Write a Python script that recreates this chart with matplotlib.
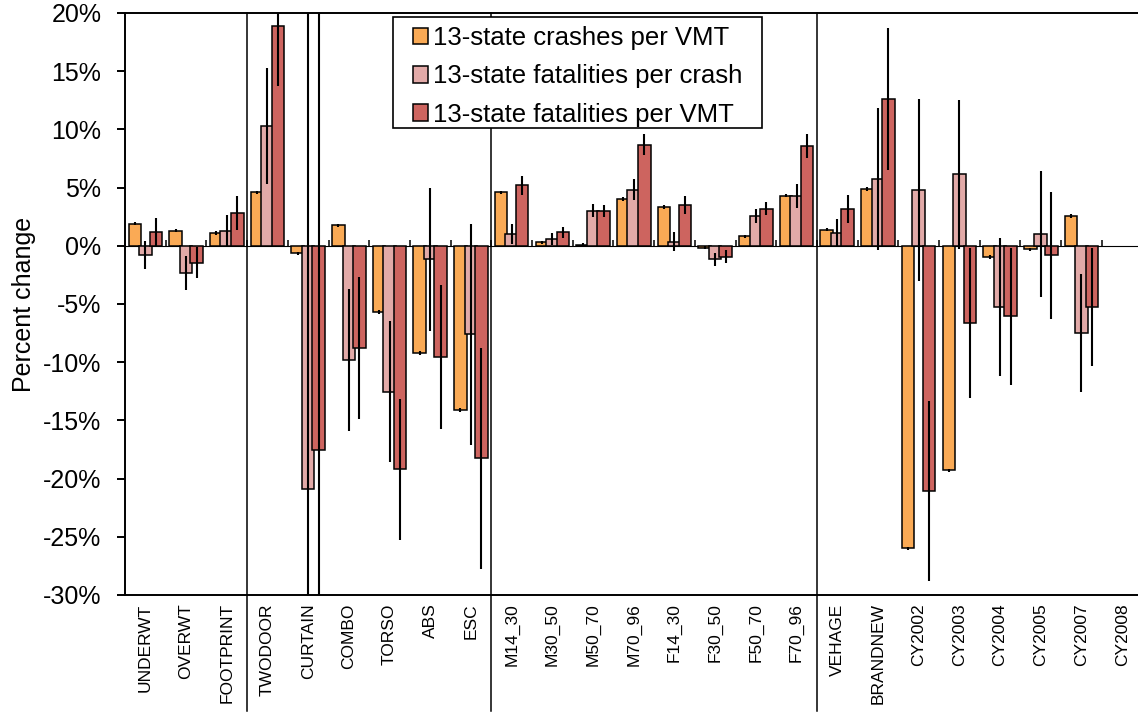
"""Percent change in 13-state crash / fatality rates by vehicle and driver factor."""

import numpy as np
import matplotlib
matplotlib.use("Agg")
import matplotlib.pyplot as plt
from matplotlib.patches import Rectangle

plt.rcParams["font.family"] = ["Liberation Sans", "DejaVu Sans"]

categories = ["UNDERWT", "OVERWT", "FOOTPRINT", "TWODOOR", "CURTAIN", "COMBO",
              "TORSO", "ABS", "ESC", "M14_30", "M30_50", "M50_70", "M70_96",
              "F14_30", "F30_50", "F50_70", "F70_96", "VEHAGE", "BRANDNEW",
              "CY2002", "CY2003", "CY2004", "CY2005", "CY2007", "CY2008"]

crashes_vmt = [1.9, 1.3, 1.1, 4.6, -0.65, 1.75, -5.7, -9.2, -14.1, 4.6, 0.3, 0.1,
               4.0, 3.35, -0.15, 0.8, 4.3, 1.4, 4.9, -26.0, -19.3, -0.95, -0.3,
               2.55, np.nan]
crashes_vmt_err = [0.15] * 24 + [np.nan]

fatal_crash = [-0.8, -2.35, 1.3, 10.3, -20.9, -9.8, -12.55, -1.15, -7.6, 1.0, 0.6,
               3.0, 4.8, 0.35, -1.15, 2.55, 4.3, 1.1, 5.7, 4.8, 6.15, -5.25, 1.0,
               -7.5, np.nan]
fatal_crash_err = [1.2, 1.45, 1.35, 4.95, 45.0, 6.1, 6.05, 6.15, 9.5, 0.85, 0.5,
                   0.55, 0.9, 0.8, 0.55, 0.6, 1.05, 1.2, 6.1, 7.8, 6.4, 5.9, 5.4,
                   5.1, np.nan]

fatal_vmt = [1.15, -1.45, 2.85, 18.85, -17.5, -8.75, -19.2, -9.55, -18.25, 5.2,
             1.15, 3.0, 8.7, 3.5, -0.95, 3.2, 8.55, 3.2, 12.65, -21.05, -6.65,
             -6.05, -0.8, -5.25, np.nan]
fatal_vmt_err = [1.2, 1.35, 1.45, 5.1, 45.0, 6.1, 6.05, 6.2, 9.5, 0.8, 0.5, 0.5,
                 0.9, 0.75, 0.55, 0.55, 1.05, 1.2, 6.1, 7.75, 6.45, 5.9, 5.45, 5.1,
                 np.nan]

series = [
    ("13-state crashes per VMT", crashes_vmt, crashes_vmt_err, "#FAAA55"),
    ("13-state fatalities per crash", fatal_crash, fatal_crash_err, "#E2AAA8"),
    ("13-state fatalities per VMT", fatal_vmt, fatal_vmt_err, "#CD645F"),
]
group_breaks = [2.5, 8.5, 16.5]
y_ticks = list(range(-30, 25, 5))

W, H = 1138, 713
fig = plt.figure(figsize=(W / 100, H / 100), dpi=100)
ax = fig.add_axes([125 / W, 118 / H, 1017.5 / W, 582 / H])

x = np.arange(len(categories))
offset, width = 0.258, 0.31
for i, (label, vals, errs, color) in enumerate(series):
    xs = x + (i - 1) * offset
    ax.bar(xs, vals, width=width, color=color, edgecolor="black",
           linewidth=1.1, label=label, zorder=2 + i * 0.1)
for i, (label, vals, errs, color) in enumerate(series):
    xs = x + (i - 1) * offset
    ax.errorbar(xs, vals, yerr=errs, fmt="none", ecolor="black",
                elinewidth=1.5, capsize=0, zorder=3)

# group separators, running down through the tick labels
for b in group_breaks:
    ax.plot([b, b], [1, -0.2], transform=ax.get_xaxis_transform(),
            color="black", lw=1.1, clip_on=False, zorder=1.5)

ax.set_xlim(-0.5, len(categories) - 0.5)
ax.set_ylim(-30, 20)
ax.set_yticks(y_ticks)
ax.set_yticklabels([f"{t}%" for t in y_ticks], fontsize=18)
ax.tick_params(axis="y", direction="out", length=6, width=1.4, pad=11)
ax.set_xticks(x)
ax.set_xticklabels(categories, rotation=90, fontsize=12.5,
                   rotation_mode="anchor", ha="right", va="center")
ax.tick_params(axis="x", length=0, pad=6)
ax.set_ylabel("Percent change", fontsize=18, labelpad=5)
for s in ["left", "bottom", "top"]:
    ax.spines[s].set_linewidth(1.4)
ax.spines["right"].set_visible(False)

# zero line with category-boundary ticks
zero_ax = ax.secondary_xaxis(30 / 50)
zero_ax.set_xticks(np.arange(-0.5, len(categories), 1.0))
zero_ax.set_xticklabels([])
zero_ax.tick_params(direction="out", length=4, width=1.1)
zero_ax.spines["bottom"].set_linewidth(1.4)

# legend box drawn separately so the side padding can be wider than the top
box = (393 / W, 1 - 128 / H, 369 / W, 111 / H)
ax.add_artist(Rectangle(box[:2], box[2], box[3], transform=fig.transFigure,
                        facecolor="white", edgecolor="black", lw=1.2,
                        zorder=9, clip_on=False))
leg = ax.legend(loc="center", bbox_to_anchor=(box[0], box[1] - 4 / H, box[2], box[3]),
                bbox_transform=fig.transFigure, borderaxespad=0, borderpad=0,
                fontsize=18.5, handlelength=0.6, handleheight=0.6,
                handletextpad=0.2, labelspacing=0.55, frameon=False)
leg.set_zorder(10)

fig.savefig("out.png", dpi=100)
